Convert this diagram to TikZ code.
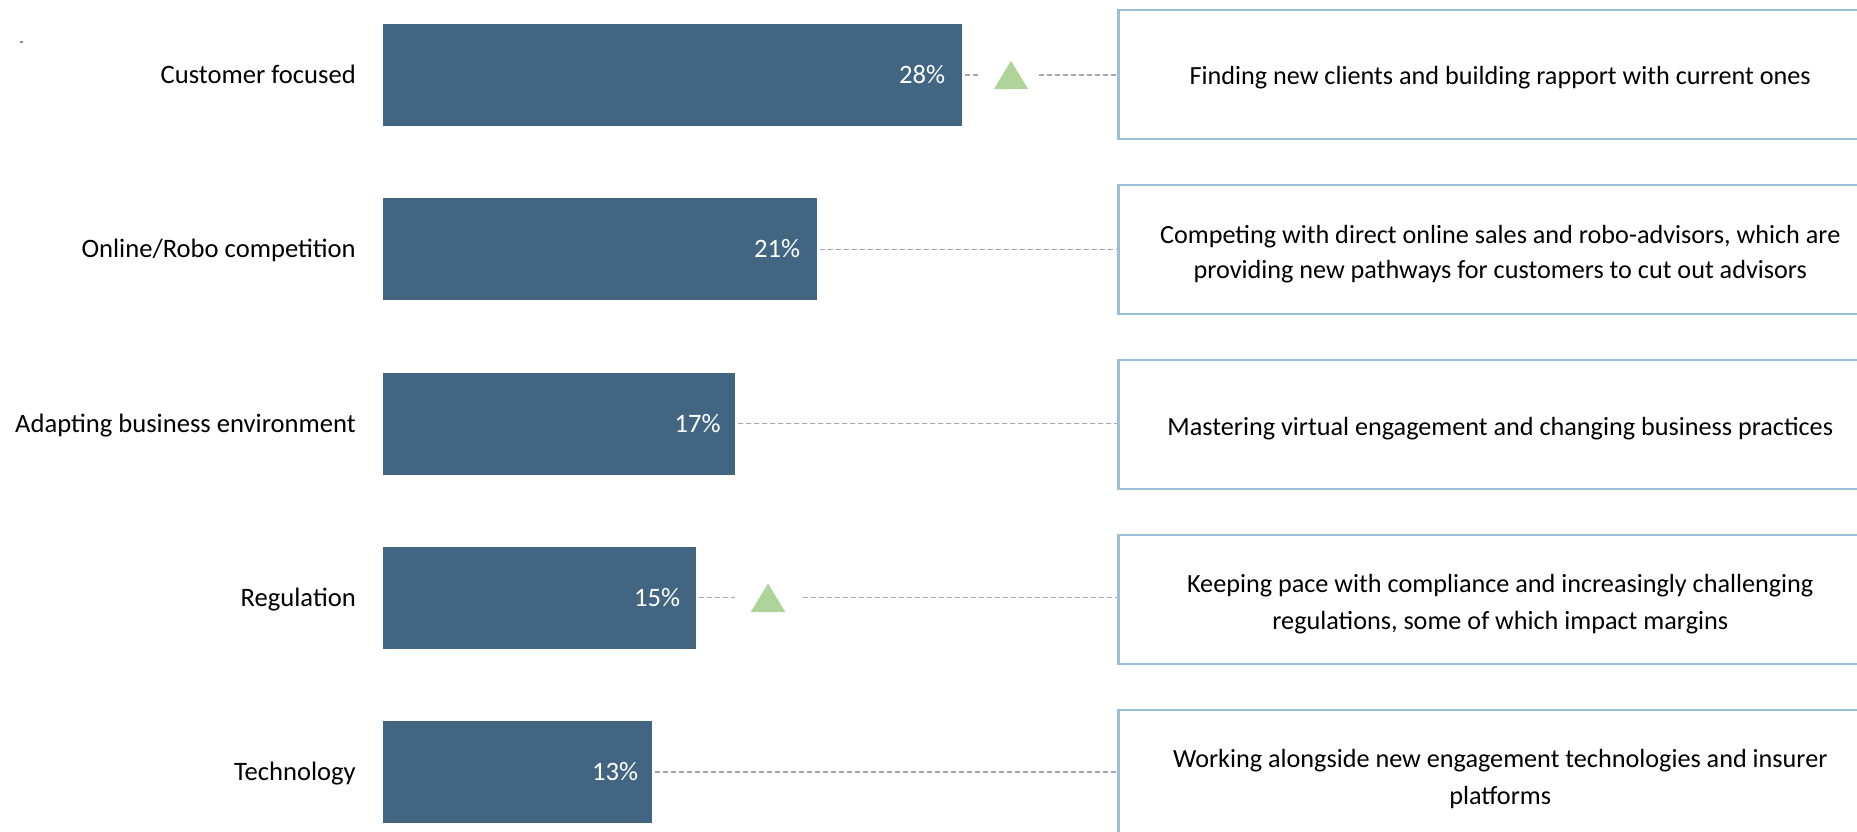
\documentclass[tikz,border=0pt]{standalone}
\usepackage{fontspec}
\setmainfont{Carlito}
\usetikzlibrary{calc}
\definecolor{barblue}{HTML}{426682}
\definecolor{boxblue}{HTML}{9BBED9}
\definecolor{trigreen}{HTML}{AED499}
\definecolor{dashgray}{HTML}{A6A6A6}
\begin{document}
\begin{tikzpicture}[x=1pt,y=-1pt,
  txt/.style={font=\fontsize{26.6}{36}\selectfont, inner sep=0pt},
  boxtxt/.style={font=\fontsize{26.2}{37}\selectfont, inner sep=0pt, align=center},
  bar/.style={fill=barblue, draw=none, minimum height=102pt, inner sep=0pt, anchor=west},
  pct/.style={txt, text=white, anchor=base east},
  lbl/.style={txt, anchor=base east},
  desc/.style={draw=boxblue, line width=2.5pt, minimum width=764pt, minimum height=129pt,
               inner sep=0pt, anchor=west},
  marker/.style={minimum width=34pt, minimum height=28pt, inner sep=0pt},
  link/.style={draw=dashgray, line width=1.3pt, dash pattern=on 5pt off 3pt}]
\clip (0,0) rectangle (1857,832);
\fill[white] (0,0) rectangle (1857,832);
\fill[barblue!70] (20,41.5) rectangle (23,42.6);

% bars
\node[bar, minimum width=579pt] (bar1) at (383,75) {};
\node[bar, minimum width=434pt] (bar2) at (383,249.3) {};
\node[bar, minimum width=351.5pt] (bar3) at (383,423.5) {};
\node[bar, minimum width=313pt] (bar4) at (383,597.8) {};
\node[bar, minimum width=269pt] (bar5) at (383,772) {};

% category labels
\node[lbl] (l1) at (356,83.5) {Customer focused};
\node[lbl] (l2) at (356,257.8) {Online/Robo competition};
\node[lbl] (l3) at (356,432) {Adapting business environment};
\node[lbl] (l4) at (356,606.3) {Regulation};
\node[lbl] (l5) at (356,780.5) {Technology};

% percentages
\node[pct] (p1) at ($(bar1.east)+(-17,8.5)$) {28\%};
\node[pct] (p2) at ($(bar2.east)+(-17,8.5)$) {21\%};
\node[pct] (p3) at ($(bar3.east)+(-14,8.5)$) {17\%};
\node[pct] (p4) at ($(bar4.east)+(-16,8.5)$) {15\%};
\node[pct] (p5) at ($(bar5.east)+(-14,8.5)$) {13\%};

% description boxes
\node[desc] (b1) at (1117,74.5) {};
\node[desc] (b2) at (1117,249.5) {};
\node[desc] (b3) at (1117,424.5) {};
\node[desc] (b4) at (1117,599.5) {};
\node[desc] (b5) at (1117,774.5) {};
\node[boxtxt] (d1) at ($(b1.center)+(0,3)$) {Finding new clients and building rapport with current ones};
\node[boxtxt, font=\fontsize{26.2}{35}\selectfont] (d2) at ($(b2.center)+(0,5)$) {Competing with direct online sales and robo-advisors, which are\\providing new pathways for customers to cut out advisors};
\node[boxtxt] (d3) at ($(b3.center)+(0,4)$) {Mastering virtual engagement and changing business practices};
\node[boxtxt] (d4) at ($(b4.center)+(0,5)$) {Keeping pace with compliance and increasingly challenging\\regulations, some of which impact margins};
\node[boxtxt] (d5) at ($(b5.center)+(0,5)$) {Working alongside new engagement technologies and insurer\\platforms};

% triangle markers
\node[marker] (t1) at (1011,75) {};
\node[marker] (t4) at (768,597.8) {};
\fill[trigreen] (t1.south west) -- (t1.south east) -- (t1.north) -- cycle;
\fill[trigreen] (t4.south west) -- (t4.south east) -- (t4.north) -- cycle;

% connectors
\draw[link, shorten <=3pt, shorten >=15pt] (bar1.east) -- (t1.west);
\draw[link, shorten <=11pt] (t1.east) -- (t1.east -| b1.west);
\draw[link, shorten <=3pt] (bar2.east) -- (bar2.east -| b2.west);
\draw[link, shorten <=3pt] (bar3.east) -- (bar3.east -| b3.west);
\draw[link, shorten <=3pt, shorten >=16pt] (bar4.east) -- (t4.west);
\draw[link, shorten <=18pt] (t4.east) -- (t4.east -| b4.west);
\draw[link, shorten <=3pt] (bar5.east) -- (bar5.east -| b5.west);
\end{tikzpicture}
\end{document}
